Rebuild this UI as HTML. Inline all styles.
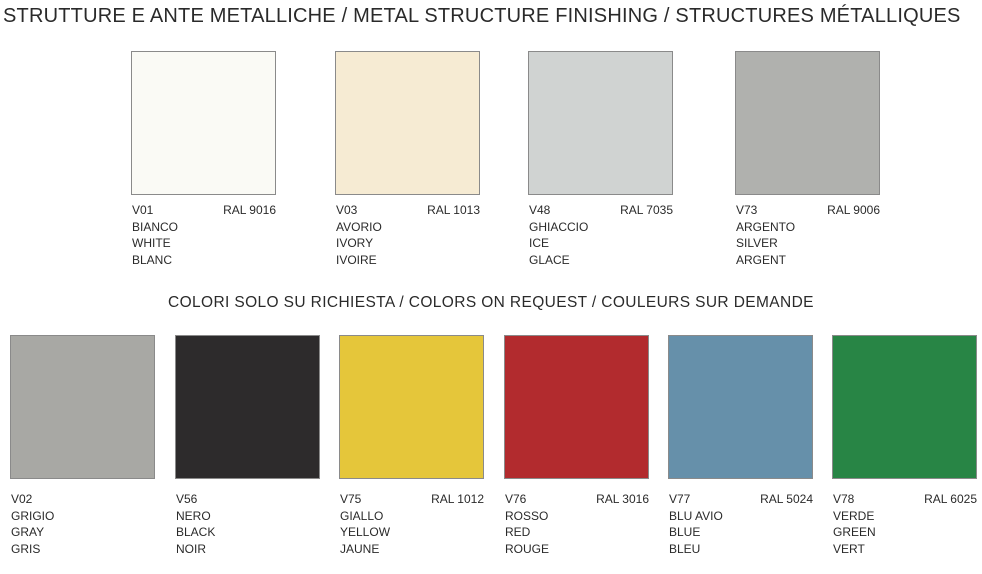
<!DOCTYPE html><html><head><style>
body{margin:0;width:982px;height:574px;background:#fff;position:relative;font-family:"Liberation Sans",sans-serif;color:#2a2a2a;overflow:hidden}
.t{position:absolute;white-space:nowrap}
.sw{position:absolute;width:143px;height:142px;border:1px solid #8a8a8a}
.lb{position:absolute;width:144px;font-size:12px;line-height:16.5px}
.lb .r{position:absolute;right:0;top:0}
</style></head><body>
<div class="t" style="left:3px;top:5px;font-size:20px;letter-spacing:0.2px;">STRUTTURE E ANTE METALLICHE / METAL STRUCTURE FINISHING / STRUCTURES MÉTALLIQUES</div>
<div class="t" style="left:168px;top:294px;font-size:15.5px;letter-spacing:0.38px;">COLORI SOLO SU RICHIESTA / COLORS ON REQUEST / COULEURS SUR DEMANDE</div>

<div class="sw" style="left:131px;top:51px;background:#fafaf5"></div>
<div class="sw" style="left:335px;top:51px;background:#f6ebd3"></div>
<div class="sw" style="left:528px;top:51px;background:#d0d3d2"></div>
<div class="sw" style="left:735px;top:51px;background:#b0b1ae"></div>
<div class="lb" style="left:132px;top:202px">V01<span class="r">RAL 9016</span><br>BIANCO<br>WHITE<br>BLANC</div>
<div class="lb" style="left:336px;top:202px">V03<span class="r">RAL 1013</span><br>AVORIO<br>IVORY<br>IVOIRE</div>
<div class="lb" style="left:529px;top:202px">V48<span class="r">RAL 7035</span><br>GHIACCIO<br>ICE<br>GLACE</div>
<div class="lb" style="left:736px;top:202px">V73<span class="r">RAL 9006</span><br>ARGENTO<br>SILVER<br>ARGENT</div>

<div class="sw" style="left:10px;top:335px;background:#a8a8a4"></div>
<div class="sw" style="left:175px;top:335px;background:#2d2b2c"></div>
<div class="sw" style="left:339px;top:335px;background:#e5c63a"></div>
<div class="sw" style="left:504px;top:335px;background:#b22b2e"></div>
<div class="sw" style="left:668px;top:335px;background:#6690aa"></div>
<div class="sw" style="left:832px;top:335px;background:#288545"></div>
<div class="lb" style="left:11px;top:491px">V02<br>GRIGIO<br>GRAY<br>GRIS</div>
<div class="lb" style="left:176px;top:491px">V56<br>NERO<br>BLACK<br>NOIR</div>
<div class="lb" style="left:340px;top:491px">V75<span class="r">RAL 1012</span><br>GIALLO<br>YELLOW<br>JAUNE</div>
<div class="lb" style="left:505px;top:491px">V76<span class="r">RAL 3016</span><br>ROSSO<br>RED<br>ROUGE</div>
<div class="lb" style="left:669px;top:491px">V77<span class="r">RAL 5024</span><br>BLU AVIO<br>BLUE<br>BLEU</div>
<div class="lb" style="left:833px;top:491px">V78<span class="r">RAL 6025</span><br>VERDE<br>GREEN<br>VERT</div>
</body></html>
